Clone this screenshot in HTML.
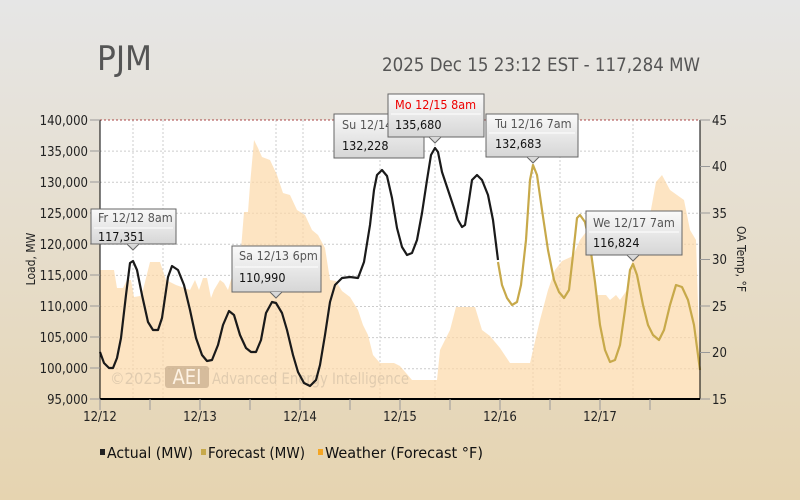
<!DOCTYPE html>
<html><head><meta charset="utf-8"><style>
body{margin:0;width:800px;height:500px;overflow:hidden;}
svg{display:block;font-family:"DejaVu Sans Condensed","Liberation Sans Narrow","Liberation Sans",sans-serif;}
</style></head><body>
<svg width="800" height="500" xmlns="http://www.w3.org/2000/svg">
<defs>
<linearGradient id="bg" x1="0" y1="0" x2="0" y2="1"><stop offset="0" stop-color="#e6e6e6"/><stop offset="1" stop-color="#e6d4b0"/></linearGradient>
<linearGradient id="tt" x1="0" y1="0" x2="0" y2="1"><stop offset="0" stop-color="#fafafa"/><stop offset="1" stop-color="#d6d6d6"/></linearGradient>
</defs>
<rect width="800" height="500" fill="url(#bg)"/>
<text x="97" y="70" font-size="34" fill="#555" textLength="55" lengthAdjust="spacingAndGlyphs">PJM</text>
<text x="700" y="71" font-size="19" fill="#555" text-anchor="end" textLength="318" lengthAdjust="spacingAndGlyphs">2025 Dec 15 23:12 EST - 117,284 MW</text>
<rect x="100" y="120" width="600" height="279" fill="#fff"/>
<g stroke="#ccc" stroke-dasharray="2,2">
<line x1="100" x2="700" y1="151.1" y2="151.1"/><line x1="100" x2="700" y1="182.2" y2="182.2"/><line x1="100" x2="700" y1="213.3" y2="213.3"/><line x1="100" x2="700" y1="244.3" y2="244.3"/><line x1="100" x2="700" y1="275.4" y2="275.4"/><line x1="100" x2="700" y1="306.5" y2="306.5"/><line x1="100" x2="700" y1="337.6" y2="337.6"/><line x1="100" x2="700" y1="368.7" y2="368.7"/>
<line x1="133" x2="133" y1="120" y2="399"/><line x1="163" x2="163" y1="120" y2="399"/><line x1="276" x2="276" y1="120" y2="399"/><line x1="380" x2="380" y1="120" y2="399"/><line x1="435" x2="435" y1="120" y2="399"/><line x1="533" x2="533" y1="120" y2="399"/><line x1="633" x2="633" y1="120" y2="399"/><line x1="560" x2="560" y1="120" y2="399"/><line x1="303" x2="303" y1="120" y2="399"/>
</g>
<line x1="100" x2="700" y1="120" y2="120" stroke="#a44" stroke-dasharray="2,2"/>
<polygon fill="#fcd9a8" fill-opacity="0.7" points="100,399 100,270 114,270 117,288 123,288 127,280 131,280 134,297 140,296 143,290 150,262 160,262 166,280 176,285 190,290 195,280 199,290 203,278 207,278 211,298 214,290 220,280 224,283 228,290 233,273 240,262 244,212 248,212 250,185 254,140 258,148 262,157 270,160 277,175 283,193 290,195 297,210 305,215 312,230 318,235 325,248 330,280 336,281 342,291 350,297 358,310 363,325 368,335 373,355 380,363 394,363 400,366 412,380 437,380 440,350 450,330 456,307 475,307 482,330 490,336 500,348 510,363 530,363 540,320 548,290 555,270 562,261 573,256 580,240 589,228 597,295 606,295 610,300 616,295 620,300 627,290 630,270 634,255 640,248 644,230 650,215 656,182 662,175 670,190 677,195 684,200 690,230 696,240 700,370 700,399"/>
<g opacity="0.55">
<rect x="165" y="366" width="44" height="22" rx="3" fill="#b79d7e"/>
<text x="187" y="384" font-size="20" fill="#fff" text-anchor="middle">AEI</text>
<text x="110" y="384" font-size="16" fill="#c9b8a0" textLength="52" lengthAdjust="spacingAndGlyphs">©2025</text>
<text x="212" y="384" font-size="16" fill="#c9b8a0" textLength="197" lengthAdjust="spacingAndGlyphs">Advanced Energy Intelligence</text>
</g>
<polyline fill="none" stroke="#c7a94a" stroke-width="2.2" stroke-linejoin="round" points="498,262 502,285 507,298 512,305 517,302 521,285 526,240 530,180 533,165 537,175 542,210 548,250 554,280 559,292 564,298 569,290 573,255 577,218 580,215 585,222 590,245 595,282 600,325 605,350 610,362 615,360 620,345 625,310 630,270 633,264 637,275 643,305 648,325 653,335 659,340 664,330 670,305 676,285 682,287 688,300 694,325 700,370"/>
<polyline fill="none" stroke="#1a1a1a" stroke-width="2.2" stroke-linejoin="round" points="100,352 104,363 109,368 113,368 117,358 121,338 126,295 130,263 133,261 137,270 142,295 148,322 153,330 158,330 162,318 168,277 172,266 178,270 184,285 190,310 196,338 202,355 207,361 212,360 218,345 223,325 229,311 234,315 240,335 246,348 251,352 256,352 261,340 266,313 272,302 276,303 282,313 287,330 293,355 298,372 304,383 310,386 316,380 320,365 325,335 330,302 335,285 342,278 350,277 358,278 364,262 370,225 374,190 377,175 382,170 387,176 392,198 397,228 402,247 407,255 412,253 417,240 422,213 427,180 431,155 435,148 438,152 442,172 448,190 453,205 458,220 462,227 465,225 469,200 472,180 477,175 482,180 488,195 493,220 498,260"/>
<line x1="100" x2="100" y1="120" y2="399" stroke="#000"/>
<line x1="700" x2="700" y1="120" y2="399" stroke="#000"/>
<line x1="100" x2="700" y1="399" y2="399" stroke="#000" stroke-width="2"/>
<g stroke="#999"><line x1="90" x2="100" y1="120" y2="120"/><line x1="90" x2="100" y1="151" y2="151"/><line x1="90" x2="100" y1="182" y2="182"/><line x1="90" x2="100" y1="213" y2="213"/><line x1="90" x2="100" y1="244" y2="244"/><line x1="90" x2="100" y1="275" y2="275"/><line x1="90" x2="100" y1="306" y2="306"/><line x1="90" x2="100" y1="337" y2="337"/><line x1="90" x2="100" y1="368" y2="368"/><line x1="90" x2="100" y1="399" y2="399"/>
<line x1="700" x2="710" y1="120" y2="120"/><line x1="700" x2="710" y1="166.5" y2="166.5"/><line x1="700" x2="710" y1="213" y2="213"/><line x1="700" x2="710" y1="259.5" y2="259.5"/><line x1="700" x2="710" y1="306" y2="306"/><line x1="700" x2="710" y1="352.5" y2="352.5"/><line x1="700" x2="710" y1="399" y2="399"/>
<line x1="100" x2="100" y1="399" y2="410"/><line x1="150" x2="150" y1="399" y2="410"/><line x1="200" x2="200" y1="399" y2="410"/><line x1="250" x2="250" y1="399" y2="410"/><line x1="300" x2="300" y1="399" y2="410"/><line x1="350" x2="350" y1="399" y2="410"/><line x1="400" x2="400" y1="399" y2="410"/><line x1="450" x2="450" y1="399" y2="410"/><line x1="500" x2="500" y1="399" y2="410"/><line x1="550" x2="550" y1="399" y2="410"/><line x1="600" x2="600" y1="399" y2="410"/><line x1="650" x2="650" y1="399" y2="410"/></g>
<g font-size="13" fill="#222" text-anchor="end">
<text x="88" y="125">140,000</text><text x="88" y="156">135,000</text><text x="88" y="187">130,000</text><text x="88" y="218">125,000</text><text x="88" y="249">120,000</text><text x="88" y="280">115,000</text><text x="88" y="311">110,000</text><text x="88" y="342">105,000</text><text x="88" y="373">100,000</text><text x="88" y="404">95,000</text></g>
<g font-size="13" fill="#222"><text x="712" y="125">45</text><text x="712" y="171">40</text><text x="712" y="218">35</text><text x="712" y="264">30</text><text x="712" y="311">25</text><text x="712" y="357">20</text><text x="712" y="404">15</text></g>
<g font-size="13" fill="#222" text-anchor="middle"><text x="100" y="421">12/12</text><text x="200" y="421">12/13</text><text x="300" y="421">12/14</text><text x="400" y="421">12/15</text><text x="500" y="421">12/16</text><text x="600" y="421">12/17</text></g>
<text transform="translate(35,259) rotate(-90)" font-size="12" fill="#222" text-anchor="middle">Load, MW</text>
<text transform="translate(737,259) rotate(90)" font-size="12" fill="#222" text-anchor="middle">OA Temp, °F</text>
<g font-size="15" fill="#111"><rect x="100" y="449" width="5" height="6" fill="#222"/><text x="107" y="458" textLength="86" lengthAdjust="spacingAndGlyphs">Actual (MW)</text>
<rect x="201" y="449" width="5" height="6" fill="#c7a94a"/><text x="208" y="458" textLength="97" lengthAdjust="spacingAndGlyphs">Forecast (MW)</text>
<rect x="318" y="449" width="5" height="6" fill="#f5a623"/><text x="325" y="458" textLength="158" lengthAdjust="spacingAndGlyphs">Weather (Forecast °F)</text></g>
<g font-size="12.5">
<g><rect x="334" y="114" width="90" height="44" fill="url(#tt)" stroke="#666"/><text x="342" y="129" fill="#555">Su 12/14</text><text x="342" y="150" fill="#111">132,228</text></g>
<g><rect x="91" y="209" width="85" height="35" fill="url(#tt)" stroke="#666"/><path d="M127,244 L133,250 L139,244" fill="#d8d8d8" stroke="#666"/><text x="98" y="222" fill="#555">Fr 12/12 8am</text><line x1="94" x2="173" y1="228" y2="228" stroke="#fff"/><text x="98" y="241" fill="#111">117,351</text></g>
<g><rect x="232" y="246" width="89" height="46" fill="url(#tt)" stroke="#666"/><path d="M270,292 L276,298 L282,292" fill="#d8d8d8" stroke="#666"/><text x="239" y="260" fill="#555">Sa 12/13 6pm</text><line x1="235" x2="318" y1="267" y2="267" stroke="#fff"/><text x="239" y="282" fill="#111">110,990</text></g>
<g><rect x="388" y="94" width="96" height="43" fill="url(#tt)" stroke="#666"/><path d="M429,137 L435,143 L441,137" fill="#d8d8d8" stroke="#666"/><text x="395" y="109" fill="#e00">Mo 12/15 8am</text><line x1="391" x2="481" y1="114" y2="114" stroke="#fff"/><text x="395" y="129" fill="#111">135,680</text></g>
<g><rect x="486" y="114" width="92" height="43" fill="url(#tt)" stroke="#666"/><path d="M527,157 L533,163 L539,157" fill="#d8d8d8" stroke="#666"/><text x="495" y="128" fill="#555">Tu 12/16 7am</text><line x1="489" x2="575" y1="133" y2="133" stroke="#fff"/><text x="495" y="148" fill="#111">132,683</text></g>
<g><rect x="586" y="211" width="96" height="44" fill="url(#tt)" stroke="#666"/><path d="M627,255 L633,261 L639,255" fill="#d8d8d8" stroke="#666"/><text x="593" y="227" fill="#555">We 12/17 7am</text><line x1="589" x2="679" y1="232" y2="232" stroke="#fff"/><text x="593" y="247" fill="#111">116,824</text></g>
</g>
</svg>
</body></html>
